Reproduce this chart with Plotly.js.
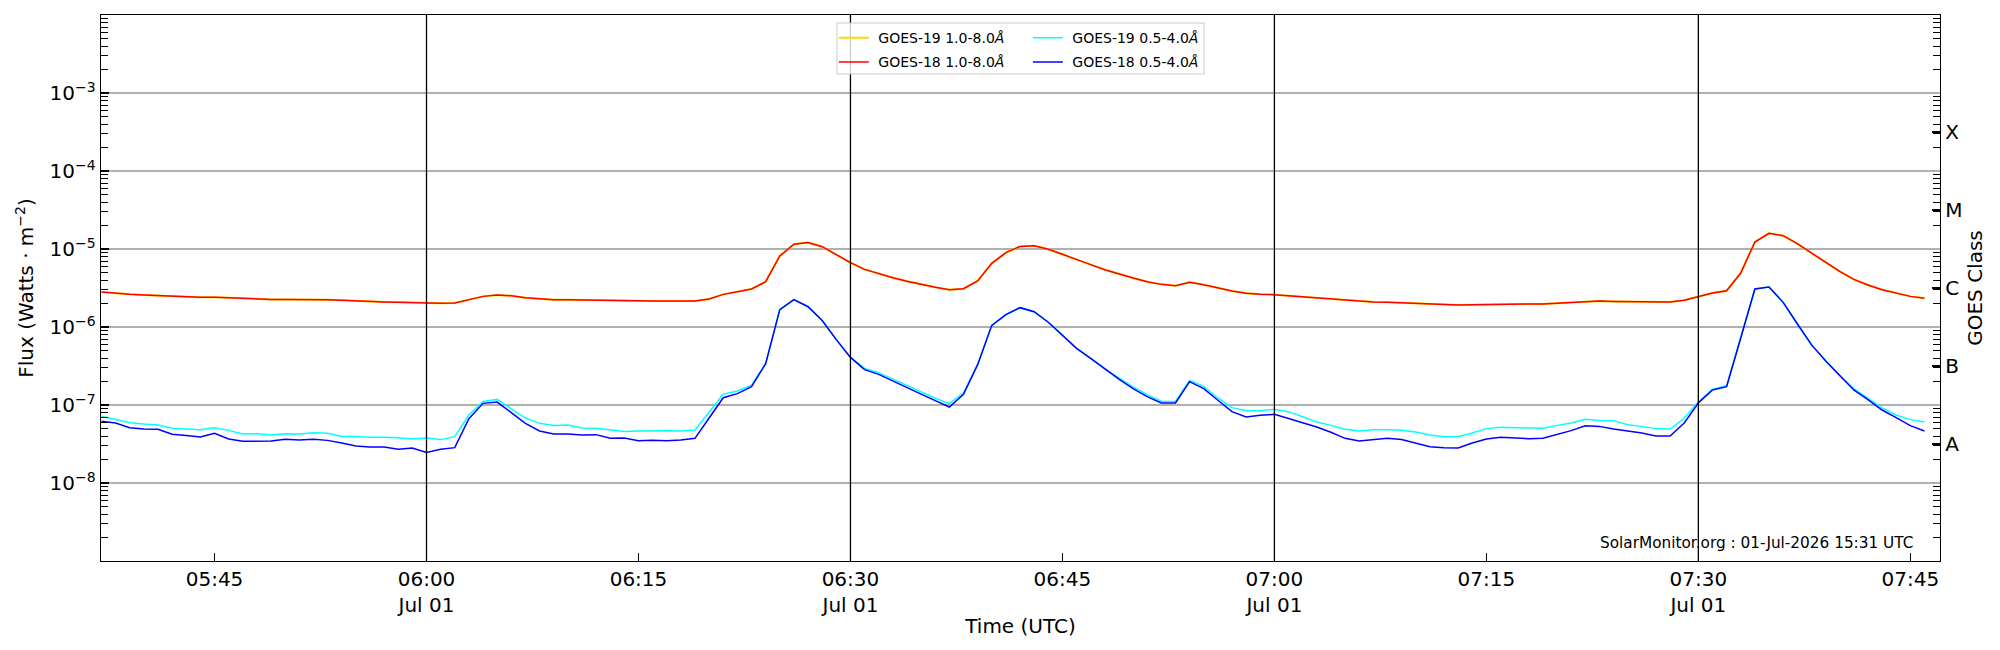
<!DOCTYPE html>
<html>
<head>
<meta charset="utf-8">
<script src="https://cdn.plot.ly/plotly-3.0.1.min.js"></script>
<style>
  html, body { margin: 0; padding: 0; background: #fff; }
  #chart { width: 2000px; height: 650px; }
</style>
</head>
<body>
<div id="chart"></div>
<script>
// one-minute GOES samples, 05:37 to 07:46 UTC, 01 Jul 2026 (W m^-2)
const startTime = Date.UTC(2026, 6, 1, 5, 37);
const cadenceMs = 60000;

const goes18Long = [
  2.81e-6, 2.70e-6, 2.62e-6, 2.57e-6, 2.52e-6, 2.49e-6, 2.45e-6, 2.40e-6, 2.40e-6, 2.36e-6,
  2.31e-6, 2.29e-6, 2.26e-6, 2.26e-6, 2.26e-6, 2.26e-6, 2.24e-6, 2.20e-6, 2.15e-6, 2.11e-6,
  2.09e-6, 2.07e-6, 2.05e-6, 2.01e-6, 2.01e-6, 2.03e-6, 2.24e-6, 2.47e-6, 2.57e-6, 2.52e-6,
  2.38e-6, 2.29e-6, 2.24e-6, 2.24e-6, 2.22e-6, 2.20e-6, 2.18e-6, 2.15e-6, 2.15e-6, 2.15e-6,
  2.15e-6, 2.15e-6, 2.15e-6, 2.29e-6, 2.62e-6, 2.84e-6, 3.07e-6, 3.81e-6, 8.13e-6, 1.15e-5,
  1.21e-5, 1.07e-5, 8.55e-6, 6.68e-6, 5.48e-6, 4.83e-6, 4.29e-6, 3.85e-6, 3.49e-6, 3.23e-6,
  3.01e-6, 3.10e-6, 3.89e-6, 6.55e-6, 8.97e-6, 1.08e-5, 1.10e-5, 9.91e-6, 8.55e-6, 7.29e-6,
  6.30e-6, 5.43e-6, 4.78e-6, 4.25e-6, 3.81e-6, 3.52e-6, 3.39e-6, 3.74e-6, 3.49e-6, 3.16e-6,
  2.90e-6, 2.70e-6, 2.62e-6, 2.60e-6, 2.52e-6, 2.43e-6, 2.33e-6, 2.26e-6, 2.18e-6, 2.11e-6,
  2.09e-6, 2.07e-6, 2.03e-6, 1.99e-6, 1.95e-6, 1.93e-6, 1.91e-6, 1.93e-6, 1.95e-6, 1.97e-6,
  1.97e-6, 1.97e-6, 1.97e-6, 2.01e-6, 2.05e-6, 2.13e-6, 2.15e-6, 2.13e-6, 2.11e-6, 2.11e-6,
  2.09e-6, 2.09e-6, 2.20e-6, 2.47e-6, 2.73e-6, 2.92e-6, 4.92e-6, 1.23e-5, 1.59e-5, 1.48e-5,
  1.17e-5, 8.89e-6, 6.75e-6, 5.18e-6, 4.08e-6, 3.45e-6, 3.01e-6, 2.70e-6, 2.47e-6, 2.33e-6
];

// GOES-19 long channel sits right under the GOES-18 one
const goes19Long = [
  2.81e-6, 2.70e-6, 2.62e-6, 2.57e-6, 2.52e-6, 2.49e-6, 2.45e-6, 2.40e-6, 2.40e-6, 2.36e-6,
  2.31e-6, 2.29e-6, 2.26e-6, 2.26e-6, 2.26e-6, 2.26e-6, 2.24e-6, 2.20e-6, 2.15e-6, 2.11e-6,
  2.09e-6, 2.07e-6, 2.05e-6, 2.01e-6, 2.01e-6, 2.03e-6, 2.24e-6, 2.47e-6, 2.57e-6, 2.52e-6,
  2.38e-6, 2.29e-6, 2.24e-6, 2.24e-6, 2.22e-6, 2.20e-6, 2.18e-6, 2.15e-6, 2.15e-6, 2.15e-6,
  2.15e-6, 2.15e-6, 2.15e-6, 2.29e-6, 2.62e-6, 2.84e-6, 3.07e-6, 3.81e-6, 8.13e-6, 1.15e-5,
  1.21e-5, 1.07e-5, 8.55e-6, 6.68e-6, 5.48e-6, 4.83e-6, 4.29e-6, 3.85e-6, 3.49e-6, 3.23e-6,
  3.01e-6, 3.10e-6, 3.89e-6, 6.55e-6, 8.97e-6, 1.08e-5, 1.10e-5, 9.91e-6, 8.55e-6, 7.29e-6,
  6.30e-6, 5.43e-6, 4.78e-6, 4.25e-6, 3.81e-6, 3.52e-6, 3.39e-6, 3.74e-6, 3.49e-6, 3.16e-6,
  2.90e-6, 2.70e-6, 2.62e-6, 2.60e-6, 2.52e-6, 2.43e-6, 2.33e-6, 2.26e-6, 2.18e-6, 2.11e-6,
  2.09e-6, 2.07e-6, 2.03e-6, 1.99e-6, 1.95e-6, 1.93e-6, 1.91e-6, 1.93e-6, 1.95e-6, 1.97e-6,
  1.97e-6, 1.97e-6, 1.97e-6, 2.01e-6, 2.05e-6, 2.13e-6, 2.15e-6, 2.13e-6, 2.11e-6, 2.11e-6,
  2.09e-6, 2.09e-6, 2.20e-6, 2.47e-6, 2.73e-6, 2.92e-6, 4.92e-6, 1.23e-5, 1.59e-5, 1.48e-5,
  1.17e-5, 8.89e-6, 6.75e-6, 5.18e-6, 4.08e-6, 3.45e-6, 3.01e-6, 2.70e-6, 2.47e-6, 2.33e-6
];

const goes19Short = [
  7.16e-8, 6.49e-8, 5.94e-8, 5.70e-8, 5.55e-8, 5.02e-8, 4.92e-8, 4.83e-8, 5.12e-8, 4.73e-8,
  4.25e-8, 4.29e-8, 4.12e-8, 4.29e-8, 4.25e-8, 4.42e-8, 4.34e-8, 3.96e-8, 3.96e-8, 3.85e-8,
  3.85e-8, 3.81e-8, 3.66e-8, 3.78e-8, 3.60e-8, 3.93e-8, 7.45e-8, 1.11e-7, 1.18e-7, 8.97e-8,
  6.81e-8, 5.82e-8, 5.48e-8, 5.55e-8, 5.07e-8, 5.02e-8, 4.83e-8, 4.59e-8, 4.65e-8, 4.69e-8,
  4.69e-8, 4.65e-8, 4.78e-8, 8.13e-8, 1.38e-7, 1.51e-7, 1.79e-7, 3.39e-7, 1.67e-6, 2.24e-6,
  1.82e-6, 1.21e-6, 6.89e-7, 4.08e-7, 2.95e-7, 2.60e-7, 2.15e-7, 1.80e-7, 1.47e-7, 1.22e-7,
  1.04e-7, 1.43e-7, 3.29e-7, 1.05e-6, 1.44e-6, 1.77e-6, 1.57e-6, 1.15e-6, 7.89e-7, 5.32e-7,
  3.96e-7, 2.90e-7, 2.22e-7, 1.70e-7, 1.36e-7, 1.12e-7, 1.11e-7, 2.07e-7, 1.73e-7, 1.23e-7,
  9.25e-8, 8.45e-8, 8.45e-8, 8.79e-8, 8.22e-8, 7.01e-8, 6.05e-8, 5.48e-8, 4.88e-8, 4.65e-8,
  4.83e-8, 4.83e-8, 4.73e-8, 4.51e-8, 4.12e-8, 3.93e-8, 3.93e-8, 4.38e-8, 4.98e-8, 5.18e-8,
  5.12e-8, 5.07e-8, 5.02e-8, 5.48e-8, 5.87e-8, 6.55e-8, 6.35e-8, 6.30e-8, 5.60e-8, 5.32e-8,
  4.98e-8, 4.92e-8, 6.75e-8, 1.10e-7, 1.60e-7, 1.77e-7, 7.23e-7, 3.07e-6, 3.26e-6, 2.07e-6,
  1.10e-6, 5.94e-7, 3.70e-7, 2.38e-7, 1.62e-7, 1.23e-7, 9.16e-8, 7.45e-8, 6.49e-8, 6.05e-8
];

const goes18Short = [
  6.18e-8, 5.87e-8, 5.12e-8, 4.92e-8, 4.88e-8, 4.21e-8, 4.05e-8, 3.89e-8, 4.34e-8, 3.66e-8,
  3.42e-8, 3.42e-8, 3.45e-8, 3.63e-8, 3.56e-8, 3.63e-8, 3.52e-8, 3.26e-8, 2.98e-8, 2.90e-8,
  2.90e-8, 2.70e-8, 2.81e-8, 2.47e-8, 2.70e-8, 2.84e-8, 6.68e-8, 1.05e-7, 1.09e-7, 7.98e-8,
  5.82e-8, 4.65e-8, 4.25e-8, 4.25e-8, 4.12e-8, 4.17e-8, 3.74e-8, 3.78e-8, 3.49e-8, 3.52e-8,
  3.49e-8, 3.56e-8, 3.74e-8, 6.81e-8, 1.24e-7, 1.40e-7, 1.72e-7, 3.39e-7, 1.67e-6, 2.24e-6,
  1.82e-6, 1.21e-6, 6.89e-7, 4.08e-7, 2.84e-7, 2.47e-7, 2.05e-7, 1.70e-7, 1.38e-7, 1.14e-7,
  9.42e-8, 1.37e-7, 3.29e-7, 1.05e-6, 1.44e-6, 1.77e-6, 1.57e-6, 1.15e-6, 7.89e-7, 5.32e-7,
  3.96e-7, 2.90e-7, 2.15e-7, 1.62e-7, 1.28e-7, 1.06e-7, 1.06e-7, 1.99e-7, 1.62e-7, 1.15e-7,
  8.22e-8, 7.01e-8, 7.38e-8, 7.59e-8, 6.75e-8, 5.94e-8, 5.22e-8, 4.47e-8, 3.74e-8, 3.45e-8,
  3.60e-8, 3.74e-8, 3.60e-8, 3.26e-8, 2.92e-8, 2.84e-8, 2.81e-8, 3.26e-8, 3.66e-8, 3.85e-8,
  3.78e-8, 3.70e-8, 3.74e-8, 4.17e-8, 4.69e-8, 5.43e-8, 5.32e-8, 4.92e-8, 4.69e-8, 4.38e-8,
  4.01e-8, 4.01e-8, 5.87e-8, 1.06e-7, 1.56e-7, 1.72e-7, 7.23e-7, 3.07e-6, 3.26e-6, 2.07e-6,
  1.10e-6, 5.94e-7, 3.70e-7, 2.38e-7, 1.56e-7, 1.17e-7, 8.63e-8, 6.89e-8, 5.43e-8, 4.65e-8
];

const timeTicks = ["05:45", "06:00", "06:15", "06:30", "06:45", "07:00", "07:15", "07:30", "07:45"];
const dayLabel = "Jul 01";
const hourLines = ["06:00", "06:30", "07:00", "07:30"];
const fluxTicks = [1e-8, 1e-7, 1e-6, 1e-5, 1e-4, 1e-3];
const fluxTickText = ["10<sup>−8</sup>", "10<sup>−7</sup>", "10<sup>−6</sup>", "10<sup>−5</sup>", "10<sup>−4</sup>", "10<sup>−3</sup>"];
const classTicks = [3.16e-8, 3.16e-7, 3.16e-6, 3.16e-5, 3.16e-4];
const classLabels = ["A", "B", "C", "M", "X"];
const stamp = "SolarMonitor.org : 01-Jul-2026 15:31 UTC";

const day = "2026-07-01 ";
const pad = (n) => String(n).padStart(2, "0");
const times = goes18Long.map((_, i) => {
  const d = new Date(startTime + i * cadenceMs);
  return day + pad(d.getUTCHours()) + ":" + pad(d.getUTCMinutes());
});

const minorTicks = [];
for (let e = -9; e < -2; e++) {
  for (let k = 2; k <= 9; k++) minorTicks.push(k * Math.pow(10, e));
}

const font = "DejaVu Sans";

function line(y, name, color, width, legend, yaxis) {
  return {
    x: times, y, name, type: "scatter", mode: "lines",
    line: { color, width }, legend, yaxis, legendgroup: name,
    hoverinfo: "skip",
  };
}

const traces = [
  line(goes19Long, "\u00a0GOES-19 1.0-8.0<i>Å</i>", "#ffd700", 2.0, "legend", "y"),
  line(goes18Long, "\u00a0GOES-18 1.0-8.0<i>Å</i>", "#ff0000", 1.5, "legend", "y"),
  line(goes19Short, "\u00a0GOES-19 0.5-4.0<i>Å</i>", "#00ffff", 1.5, "legend2", "y"),
  line(goes18Short, "\u00a0GOES-18 0.5-4.0<i>Å</i>", "#0000ff", 1.5, "legend2", "y2"),
];

const shapes = hourLines.map((t) => ({
  type: "line", xref: "x", yref: "paper", x0: day + t, x1: day + t, y0: 0, y1: 1,
  line: { color: "#000", width: 1.3 }, layer: "above",
}));
shapes.push({
  type: "rect", xref: "paper", yref: "paper", x0: 0.4002, x1: 0.5998, y0: 0.892, y1: 0.9853,
  fillcolor: "rgba(255,255,255,0.8)", line: { color: "#cccccc", width: 1 }, layer: "above",
});

const legendBase = {
  orientation: "v", xanchor: "left", yanchor: "top", y: 0.987,
  bgcolor: "rgba(0,0,0,0)", borderwidth: 0, tracegroupgap: 3,
  font: { family: font, size: 14, color: "#000" },
};

const logAxis = {
  type: "log", range: [-9, -2], ticks: "inside", ticklen: 8, tickwidth: 1.2, tickcolor: "#000",
  minor: { tickmode: "array", tickvals: minorTicks, ticks: "inside", ticklen: 7, tickwidth: 1, tickcolor: "#000", showgrid: false },
  showline: true, linecolor: "#000", linewidth: 1.3, zeroline: false,
  tickfont: { family: font, size: 20, color: "#000" },
};

const layout = {
  width: 2000, height: 650,
  margin: { l: 101, r: 60, t: 15, b: 89 },
  paper_bgcolor: "#fff", plot_bgcolor: "#fff",
  font: { family: font, color: "#000" },
  showlegend: true,
  legend: { ...legendBase, x: 0.3985 },
  legend2: { ...legendBase, x: 0.504 },
  xaxis: {
    type: "date",
    range: [day + "05:36:58", day + "07:47:06"],
    tickmode: "array",
    tickvals: timeTicks.map((t) => day + t),
    ticktext: timeTicks.map((t) => (t.endsWith(":00") || t.endsWith(":30") ? t + "<br>" + dayLabel : t)),
    ticks: "inside", ticklen: 8, tickwidth: 1.2, tickcolor: "#000",
    showline: true, mirror: true, linecolor: "#000", linewidth: 1.3,
    showgrid: false, zeroline: false,
    tickfont: { family: font, size: 20, color: "#000" },
    title: { text: "Time (UTC)", font: { family: font, size: 20, color: "#000" }, standoff: 2 },
  },
  yaxis: {
    ...logAxis,
    tickmode: "array", tickvals: fluxTicks, ticktext: fluxTickText,
    mirror: true,
    showgrid: true, gridcolor: "#b0b0b0", gridwidth: 1.2,
    title: { text: "Flux (Watts · m<sup>−2</sup>)", font: { family: font, size: 20, color: "#000" }, standoff: 10 },
  },
  yaxis2: {
    ...logAxis,
    overlaying: "y", side: "right",
    tickmode: "array", tickvals: classTicks, ticktext: classLabels,
    showgrid: false,
    title: { text: "GOES Class", font: { family: font, size: 20, color: "#000" }, standoff: 6 },
  },
  shapes,
  annotations: [{
    text: stamp, xref: "paper", yref: "paper", x: 0.9862, y: 0.033,
    xanchor: "right", yanchor: "middle", showarrow: false,
    font: { family: font, size: 15.3, color: "#000" },
  }],
};

Plotly.newPlot("chart", traces, layout, { displayModeBar: false, staticPlot: true });
</script>
</body>
</html>
